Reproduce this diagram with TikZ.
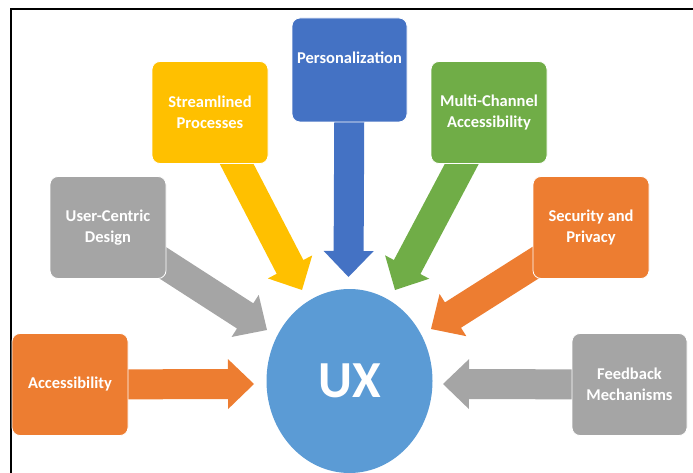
\documentclass[tikz,border=0pt]{standalone}
\usepackage{fontspec}
\setmainfont{Carlito}
\usetikzlibrary{calc,shapes.geometric}
\definecolor{cOrange}{HTML}{ED7D31}
\definecolor{cGray}{HTML}{A5A5A5}
\definecolor{cYellow}{HTML}{FFC000}
\definecolor{cBlue}{HTML}{4472C4}
\definecolor{cGreen}{HTML}{70AD47}
\definecolor{cLight}{HTML}{5B9BD5}
\pgfdeclarelayer{bg}
\pgfsetlayers{bg,main}
\tikzset{
  box/.style={rectangle, rounded corners=8pt, minimum width=116pt, minimum height=102pt,
    draw=white, line width=0.8pt, text=white, align=center, inner sep=0pt,
    font=\bfseries\fontsize{16.5}{20.5}\selectfont},
  lbl/.style={text=white, align=center, inner sep=0pt, font=\bfseries\fontsize{16.5}{20.5}\selectfont},
  hub/.style={ellipse, fill=cLight, minimum width=166pt, minimum height=184pt, inner sep=0pt,
    text=white, font=\bfseries\fontsize{52}{52}\selectfont},
  frame/.style={line width=2pt, draw=black}
}
\newcommand{\blockarrow}[3]{%
  \begin{pgfonlayer}{bg}
    \coordinate (ba-h) at ($(#3)!26pt!(#2)$);
    \fill[#1] ($(#2)!15pt!90:(#3)$) -- ($(ba-h)!15pt!90:(#3)$) -- ($(ba-h)!25pt!90:(#3)$)
      -- (#3) -- ($(ba-h)!25pt!-90:(#3)$) -- ($(ba-h)!15pt!-90:(#3)$)
      -- ($(#2)!15pt!-90:(#3)$) -- cycle;
  \end{pgfonlayer}}
\begin{document}
\begin{tikzpicture}[x=1pt,y=-1pt]
\useasboundingbox (0,0) rectangle (693,473);
\draw[frame] (11,474) -- (11,9) -- (694,9);

\node[hub] (ux) at (349.5,381) {UX};

\node[box, fill=cOrange] (acc) at (70,384.5) {Accessibility};
\node[box, fill=cGray] (ucd) at (108,227.5) {User-Centric\\Design};
\node[box, fill=cYellow] (stp) at (210,112.5) {Streamlined\\Processes};
\node[box, fill=cBlue, minimum width=115pt, minimum height=104pt] (per) at (349.5,70) {};
\node[lbl] (pert) at (349.5,58) {Personalization};
\node[box, fill=cGreen] (mca) at (489,112.5) {Multi-Channel\\Accessibility};
\node[box, fill=cOrange] (sec) at (591,227.5) {Security and\\Privacy};
\node[box, fill=cGray, minimum width=115pt] (fbm) at (629.5,384.5) {Feedback\\Mechanisms};

\coordinate (t-acc) at (254,384);
\coordinate (t-ucd) at (267,330);
\coordinate (t-stp) at (302,290);
\coordinate (t-per) at (348.5,277);
\coordinate (t-mca) at (395,290);
\coordinate (t-sec) at (431,329);
\coordinate (t-fbm) at (443,384);

\blockarrow{cOrange}{acc.center}{t-acc}
\blockarrow{cGray}{ucd.center}{t-ucd}
\blockarrow{cYellow}{stp.center}{t-stp}
\blockarrow{cBlue}{per.center}{t-per}
\blockarrow{cGreen}{mca.center}{t-mca}
\blockarrow{cOrange}{sec.center}{t-sec}
\blockarrow{cGray}{fbm.center}{t-fbm}
\end{tikzpicture}
\end{document}
